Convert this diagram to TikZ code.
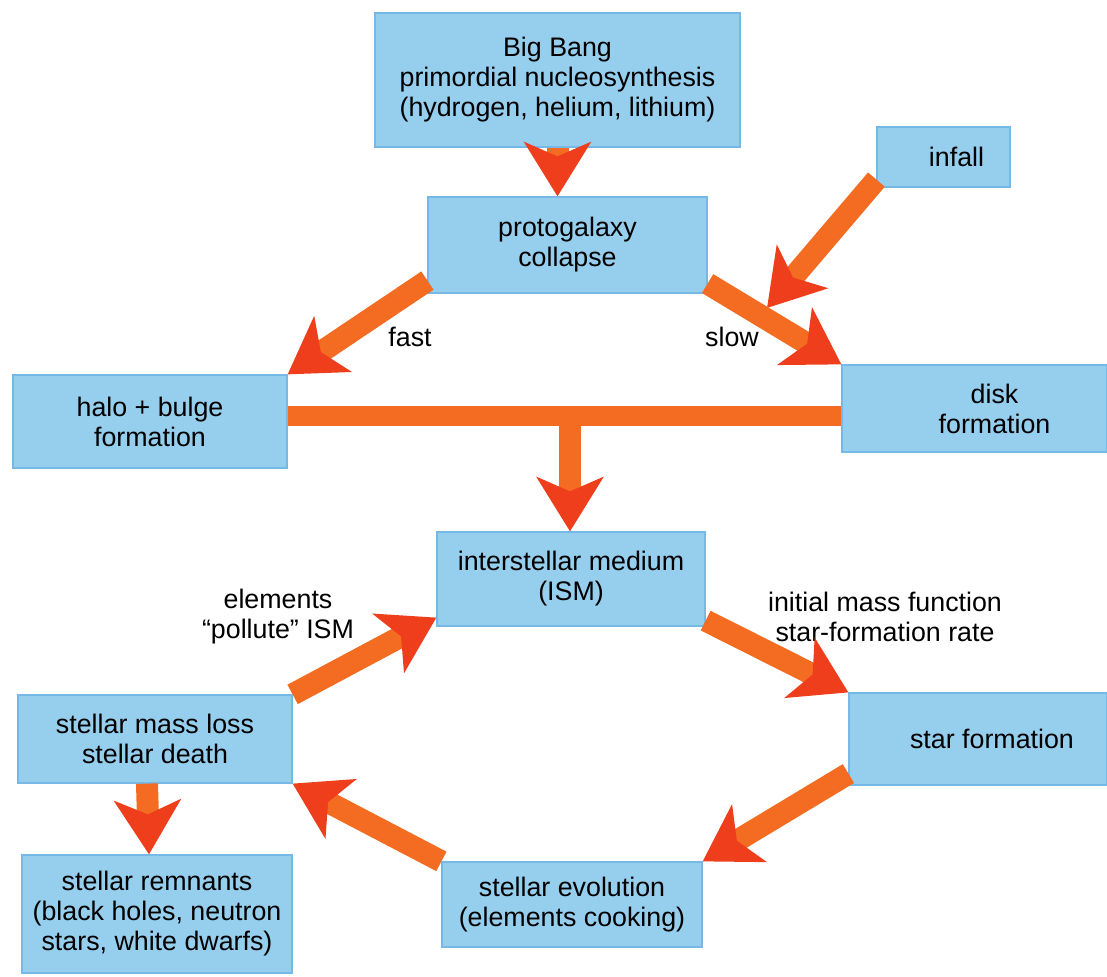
\documentclass[tikz,border=0pt]{standalone}
\usepackage{fontspec}
\setmainfont{Liberation Sans}
\usepackage{tikz}
\usetikzlibrary{arrows.meta}
\definecolor{wash}{RGB}{150,206,238}
\definecolor{washedge}{RGB}{118,184,230}
\definecolor{paint}{RGB}{243,108,34}
\definecolor{painthead}{RGB}{238,62,28}
\tikzset{box/.style 2 args={fill=wash, draw=washedge, line width=0.6pt, align=center, inner sep=0pt, minimum width=#1, minimum height=#2},
%thick painted arrows, the head a shade redder
flow/.style={draw=paint, line width=11pt, -{Stealth[length=27pt, width=33pt, inset=7pt, color=painthead]}},
bar/.style={draw=paint, line width=10pt},
note/.style={align=center, inner sep=0pt}}

\begin{document}
\begin{tikzpicture}[x=0.5pt, y=-0.5pt, font=\fontsize{13.4}{15}\selectfont]
\useasboundingbox (0,0) rectangle (1107,977);

% boxes
\node[box={182.5pt}{67pt}] (bigbang) at (557.5,80) {Big Bang\\primordial nucleosynthesis\\(hydrogen, helium, lithium)};
\node[box={139.5pt}{48pt}] (proto) at (567.5,245) {protogalaxy\\collapse};
\node[box={66.5pt}{30pt}] (infall) at (943.5,157) {\hspace*{13pt}infall};
\node[box={137pt}{46.5pt}] (halo) at (150,421.5) {halo + bulge\\formation};
\node[box={132.5pt}{43.5pt}] (disk) at (974.5,408.5) {\hspace*{20pt}disk\\\hspace*{20pt}formation};
\node[box={134pt}{47pt}] (ism) at (571,579) {interstellar medium\\(ISM)};
\node[box={137pt}{44pt}] (massloss) at (155,739) {stellar mass loss\\stellar death};
\node[box={129pt}{46pt}] (starform) at (978,739) {\hspace*{14pt}star formation};
\node[box={130pt}{42.5pt}] (evol) at (572,904.5) {stellar evolution\\(elements cooking)};
\node[box={135pt}{59pt}] (remnants) at (157,914) {stellar remnants\\(black holes, neutron\\stars, white dwarfs)};

% labels
\node[note] (fast) at (410,337) {fast};
\node[note] (slow) at (732,337) {slow};
\node[note] (pollute) at (278,617) {elements\\``pollute'' ISM};
\node[note] (imf) at (885,617) {initial mass function\\star-formation rate};

\coordinate (join) at (767,308);
\coordinate (barmid) at (570,416);

% arrows
\draw[flow] (bigbang.south) -- (bigbang.south |- proto.north);
\draw[flow] ([yshift=4pt]infall.south west) -- (join);
\draw[flow] ([yshift=6.5pt]proto.south west) -- (halo.north east);
\draw[flow] ([yshift=5pt]proto.south east) -- (disk.north west);
\draw[bar] (halo.east |- barmid) -- (disk.west |- barmid);
\draw[flow] ([yshift=5pt]barmid) -- (barmid |- ism.north);
\draw[flow] ([yshift=3pt]ism.south east) -- (starform.north west);
\draw[flow] ([yshift=6pt]starform.south west) -- (evol.north east);
\draw[flow] (evol.north west) -- (massloss.south east);
\draw[flow] (massloss.north east) -- ([yshift=4.5pt]ism.south west);
\draw[flow] ([xshift=-4pt]massloss.south) -- ([xshift=-4pt]remnants.north);

\end{tikzpicture}
\end{document}
